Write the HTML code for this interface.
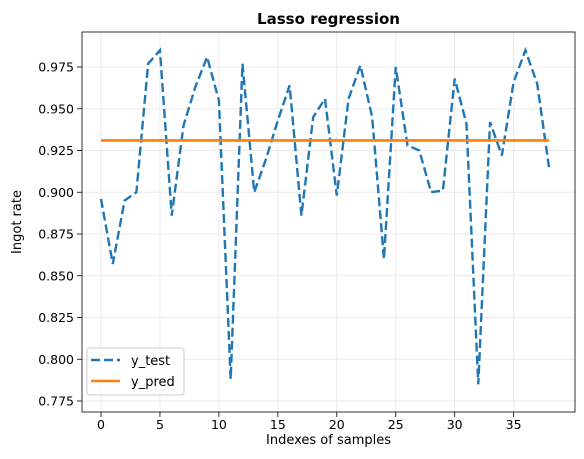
<!DOCTYPE html>
<html><head><meta charset="utf-8"><style>
body{margin:0;background:#fff;font-family:"DejaVu Sans","Liberation Sans",sans-serif;}
</style></head><body>
<svg id="chart" width="584" height="455" xmlns="http://www.w3.org/2000/svg" font-family="DejaVu Sans, Liberation Sans, sans-serif"></svg>
<script>
const xTicks=[0,5,10,15,20,25,30,35];
const yTicks=[0.775,0.800,0.825,0.850,0.875,0.900,0.925,0.950,0.975];
const yTest=[0.896,0.857,0.895,0.900,0.977,0.985,0.886,0.940,0.963,0.981,0.955,0.788,0.977,0.900,0.920,0.943,0.964,0.886,0.945,0.956,0.898,0.956,0.976,0.945,0.860,0.975,0.928,0.925,0.900,0.901,0.968,0.941,0.785,0.942,0.922,0.966,0.985,0.965,0.915];
const yPred=yTest.map(()=>0.931);
const L=82,R=575,T=32,B=412;
const X=v=>101+v*(549-101)/38;
const Y=v=>401-(v-0.775)*1670;
const svg=document.getElementById('chart');
const NS='http://www.w3.org/2000/svg';
function mk(tag,attrs,parent){const e=document.createElementNS(NS,tag);for(const k in attrs)e.setAttribute(k,attrs[k]);(parent||svg).appendChild(e);return e;}
const grid=mk('g',{});


xTicks.forEach(t=>{
  mk('line',{x1:X(t),x2:X(t),y1:T,y2:B,stroke:'#ebebeb','stroke-width':1},grid);
  mk('line',{x1:X(t),x2:X(t),y1:B,y2:B+5,stroke:'#000','stroke-width':0.8});
  const tx=mk('text',{x:X(t),y:B+17,'text-anchor':'middle','font-size':12.5,fill:'#000'});
  tx.textContent=t;
  
  
});
yTicks.forEach(t=>{
  mk('line',{x1:L,x2:R,y1:Y(t),y2:Y(t),stroke:'#ebebeb','stroke-width':1},grid);
  mk('line',{x1:L-5,x2:L,y1:Y(t),y2:Y(t),stroke:'#000','stroke-width':0.8});
  const tx=mk('text',{x:L-8,y:Y(t)+4.5,'text-anchor':'end','font-size':12.5,fill:'#000'});
  tx.textContent=t.toFixed(3);
  
  
});
const pl=mk('polyline',{points:yTest.map((v,i)=>X(i)+','+Y(v)).join(' '),fill:'none',stroke:'#1f77b4','stroke-width':2.4,'stroke-dasharray':'9,4'});


const pp=mk('polyline',{points:yPred.map((v,i)=>X(i)+','+Y(v)).join(' '),fill:'none',stroke:'#ff7f0e','stroke-width':2.6});


const fr=mk('rect',{x:L,y:T,width:R-L,height:B-T,fill:'none',stroke:'#000','stroke-width':0.8});


const ti=mk('text',{x:(L+R)/2,y:24,'text-anchor':'middle','font-size':15,'font-weight':'bold'});
ti.textContent='Lasso regression';


const xl=mk('text',{x:(L+R)/2,y:444,'text-anchor':'middle','font-size':13});
xl.textContent='Indexes of samples';


const yl=mk('text',{x:21,y:(T+B)/2,'text-anchor':'middle','font-size':13,transform:'rotate(-90 21 '+(T+B)/2+')'});
yl.textContent='Ingot rate';


const lg=mk('g',{});


mk('rect',{x:87,y:348,width:97,height:47,rx:3,fill:'#fff','fill-opacity':0.8,stroke:'#ccc'},lg);
mk('line',{x1:91,x2:120,y1:360,y2:360,stroke:'#1f77b4','stroke-width':2.4,'stroke-dasharray':'9,4'},lg);
mk('line',{x1:91,x2:120,y1:381,y2:381,stroke:'#ff7f0e','stroke-width':2.6},lg);
const l1=mk('text',{x:131,y:365,'font-size':13},lg);l1.textContent='y_test';


const l2=mk('text',{x:131,y:386,'font-size':13},lg);l2.textContent='y_pred';


</script>
</body></html>
